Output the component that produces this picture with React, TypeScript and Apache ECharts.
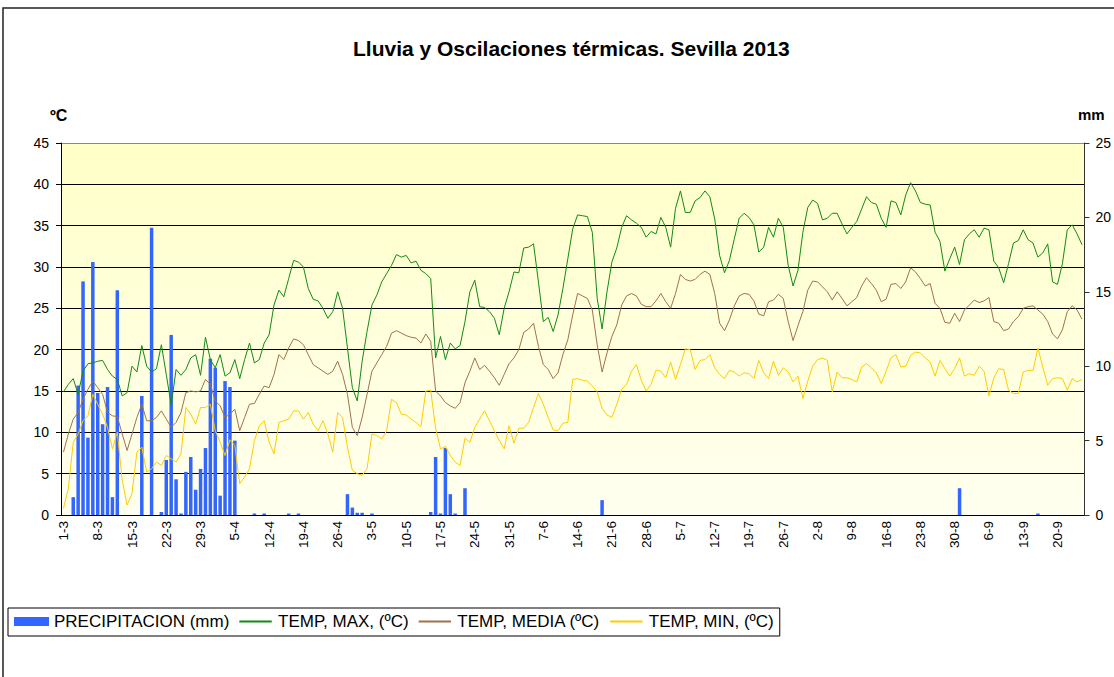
import React, { useEffect, useRef } from "react";
import * as echarts from "echarts";

const START = Date.UTC(2013, 2, 1);
const N_DAYS = 209;
const dates: string[] = Array.from({ length: N_DAYS }, (_, i) => {
  const d = new Date(START + i * 86400000);
  return `${d.getUTCDate()}-${d.getUTCMonth() + 1}`;
});

const tempMax = [
  14.9, 15.8, 16.5, 14.6, 17.4, 18.3, 18.4, 18.6, 18.7, 17.6,
  16.8, 16.4, 14.4, 14.8, 18.0, 17.3, 20.5, 18.0, 17.3, 17.7,
  20.6, 17.0, 13.3, 17.6, 16.9, 17.6, 19.0, 19.4, 16.9, 21.5,
  18.8, 17.8, 19.4, 16.8, 17.2, 18.8, 16.5, 18.8, 20.8, 18.4,
  18.8, 20.8, 21.8, 25.4, 27.2, 26.4, 28.6, 30.8, 30.6, 30.0,
  27.4, 26.1, 25.9, 25.0, 23.8, 24.6, 27.0, 25.0, 20.2, 15.4,
  13.8, 18.6, 22.2, 25.4, 26.6, 28.2, 29.2, 30.2, 31.5, 31.2,
  31.4, 30.5, 30.7, 29.6, 29.2, 28.6, 19.0, 21.6, 18.8, 20.8,
  20.1, 20.5, 23.4, 27.0, 28.4, 25.2, 25.1, 24.6, 23.8, 21.8,
  25.0, 27.0, 29.4, 29.3, 32.3, 32.4, 32.8, 28.2, 23.4, 23.9,
  22.2, 24.2, 27.4, 31.0, 34.6, 36.3, 36.2, 36.1, 34.2, 26.2,
  22.5, 27.0, 30.6, 32.3, 34.8, 36.2, 35.7, 35.3, 34.8, 33.6,
  34.3, 34.0, 36.0, 34.8, 32.4, 37.1, 39.2, 36.6, 36.6, 38.0,
  38.4, 39.2, 38.5, 35.8, 31.4, 29.3, 30.8, 33.4, 35.9, 36.5,
  36.0, 35.1, 31.8, 32.4, 34.8, 33.6, 35.9, 34.8, 30.2, 27.7,
  29.6, 34.2, 37.2, 38.1, 37.7, 35.7, 35.9, 36.5, 36.5, 35.2,
  34.0, 34.8, 35.5, 37.0, 38.5, 37.8, 37.6, 35.9, 34.8, 38.0,
  37.8, 36.3, 38.7, 40.2, 39.2, 37.8, 37.6, 37.5, 34.2, 33.1,
  29.5, 31.0, 32.4, 30.3, 33.3, 34.0, 34.5, 33.6, 34.7, 34.5,
  30.7, 29.9, 28.1, 30.4, 32.9, 33.2, 34.5, 33.3, 32.9, 31.2,
  31.7, 32.8, 28.2, 27.9, 30.4, 34.5, 35.1, 34.0, 32.7,
];

const tempMedia = [
  7.6, 9.8, 11.6, 12.4, 14.0, 15.2, 16.2, 15.4, 14.6, 12.4,
  12.0, 11.9, 9.8, 7.8, 9.8, 11.8, 13.4, 11.4, 11.4, 11.8,
  12.6, 11.6, 10.6, 11.2, 12.4, 14.8, 15.0, 14.9, 15.0, 16.4,
  15.8, 13.8, 13.2, 11.8, 12.2, 12.8, 10.2, 11.8, 13.4, 13.5,
  14.6, 15.6, 15.4, 17.0, 19.4, 18.8, 20.2, 21.3, 21.1, 20.6,
  19.4, 18.2, 17.8, 17.4, 17.0, 17.4, 18.6, 17.0, 14.6, 10.6,
  9.6, 11.8, 14.6, 17.4, 18.4, 19.4, 20.4, 22.0, 22.3, 22.0,
  21.7, 21.5, 21.4, 20.8, 21.9, 21.0, 15.0, 14.4, 13.6, 13.2,
  12.9, 13.6, 16.0, 17.4, 19.0, 17.6, 18.1, 17.4, 16.6, 15.7,
  17.0, 18.3, 19.0, 20.0, 22.1, 22.5, 23.2, 20.4, 18.2, 17.6,
  16.5, 17.2, 19.4, 21.2, 24.2, 26.8, 26.5, 26.2, 24.8, 20.6,
  17.3, 19.6, 21.6, 23.0, 25.4, 26.5, 26.8, 26.5, 25.5, 25.2,
  25.2, 25.9, 26.8, 25.8, 25.0, 26.8, 29.1, 28.5, 28.3, 28.5,
  29.1, 29.5, 29.1, 26.8, 23.2, 22.3, 23.6, 25.3, 26.5, 26.8,
  26.7, 25.9, 24.3, 24.1, 25.8, 26.0, 26.7, 26.2, 23.4, 21.1,
  22.9, 24.6, 27.2, 28.3, 28.2, 27.6, 27.0, 26.0, 27.0, 26.2,
  25.3, 25.8, 26.3, 27.7, 28.7, 28.0, 27.2, 25.8, 26.1, 27.9,
  28.0, 27.4, 28.2, 29.9, 29.4, 28.6, 27.7, 28.0, 25.6, 25.0,
  23.3, 23.2, 24.4, 23.4, 24.8, 25.4, 26.0, 25.7, 25.9, 26.3,
  23.4, 23.2, 22.3, 22.5, 23.4, 24.0, 25.0, 25.2, 25.3, 24.8,
  24.3, 23.4, 21.9, 21.3, 22.4, 24.6, 25.3, 24.8, 23.7,
];

const tempMin = [
  0.8, 3.2, 8.8, 9.8, 11.4, 12.0, 14.6, 13.4, 12.2, 10.6,
  8.0, 10.0, 4.2, 1.2, 2.6, 7.6, 8.2, 5.2, 5.6, 6.4,
  6.0, 7.2, 6.8, 6.4, 7.4, 13.0, 12.2, 11.0, 13.0, 13.0,
  13.4, 10.2, 8.8, 7.2, 9.1, 8.4, 3.8, 4.6, 5.6, 9.0,
  10.8, 11.4, 8.8, 7.4, 11.2, 11.4, 11.6, 12.6, 12.6, 11.6,
  12.4, 11.0, 10.2, 11.4, 9.8, 7.6, 12.4, 11.8, 8.2, 5.4,
  5.0, 4.8, 5.6, 9.8, 9.6, 9.2, 10.2, 14.0, 13.6, 12.2,
  12.1, 11.6, 11.2, 10.7, 15.0, 15.1, 10.5, 8.0, 8.3, 7.2,
  6.4, 6.0, 9.3, 8.8, 10.6, 11.6, 12.6, 11.4, 10.2, 9.0,
  8.0, 10.8, 8.7, 10.5, 10.5, 11.2, 13.0, 14.7, 13.4, 11.8,
  10.3, 10.2, 11.1, 11.2, 16.4, 16.5, 16.3, 16.2, 15.6, 14.9,
  12.9, 12.1, 11.8, 13.4, 15.2, 15.8, 17.4, 18.2, 16.3, 15.0,
  15.8, 17.5, 17.4, 16.6, 18.5, 16.4, 18.2, 20.1, 20.0, 17.6,
  18.7, 18.8, 19.4, 17.8, 17.0, 16.5, 17.5, 17.3, 16.8, 17.2,
  17.1, 16.5, 18.7, 17.2, 16.5, 18.6, 16.9, 17.8, 17.3, 16.1,
  16.8, 14.1, 16.2, 18.0, 18.8, 19.0, 18.7, 14.9, 17.3, 16.6,
  16.6, 16.4, 16.1, 17.9, 18.3, 17.8, 17.2, 15.9, 17.4, 19.0,
  19.4, 17.9, 18.0, 19.3, 19.7, 19.6, 19.0, 18.5, 16.8, 18.7,
  17.7, 16.8, 17.7, 19.0, 16.8, 17.1, 16.9, 18.0, 17.4, 14.4,
  16.6, 17.7, 17.6, 15.1, 14.7, 14.7, 17.3, 17.5, 17.5, 20.2,
  17.9, 15.7, 16.5, 16.6, 16.5, 15.1, 16.5, 16.1, 16.4,
];

const precip = [
  0, 0, 1.2, 8.7, 15.7, 5.2, 17.0, 8.2, 6.1, 8.6,
  1.2, 15.1, 0, 0, 0, 0, 8.0, 0, 19.3, 0,
  0.2, 3.7, 12.1, 2.4, 0.1, 2.9, 3.9, 1.7, 3.1, 4.5,
  10.5, 9.9, 1.3, 9.0, 8.6, 5.0, 0, 0, 0, 0.1,
  0, 0.1, 0, 0, 0, 0, 0.1, 0, 0.1, 0,
  0, 0, 0, 0, 0, 0, 0, 0, 1.4, 0.5,
  0.15, 0.15, 0, 0.1, 0, 0, 0, 0, 0, 0,
  0, 0, 0, 0, 0, 0.2, 3.9, 0.1, 4.5, 1.4,
  0.1, 0, 1.8, 0, 0, 0, 0, 0, 0, 0,
  0, 0, 0, 0, 0, 0, 0, 0, 0, 0,
  0, 0, 0, 0, 0, 0, 0, 0, 0, 0,
  1.0, 0, 0, 0, 0, 0, 0, 0, 0, 0,
  0, 0, 0, 0, 0, 0, 0, 0, 0, 0,
  0, 0, 0, 0, 0, 0, 0, 0, 0, 0,
  0, 0, 0, 0, 0, 0, 0, 0, 0, 0,
  0, 0, 0, 0, 0, 0, 0, 0, 0, 0,
  0, 0, 0, 0, 0, 0, 0, 0, 0, 0,
  0, 0, 0, 0, 0, 0, 0, 0, 0, 0,
  0, 0, 0, 1.8, 0, 0, 0, 0, 0, 0,
  0, 0, 0, 0, 0, 0, 0, 0, 0, 0.1,
  0, 0, 0, 0, 0, 0, 0, 0, 0,
];

const tempTicks = { min: 0, max: 45, interval: 5 };
const mmTicks = { min: 0, max: 25, interval: 5 };

const TITLE = "Lluvia y Oscilaciones térmicas. Sevilla 2013";
const S_PRECIP = "PRECIPITACION (mm)";
const S_MAX = "TEMP, MAX, (ºC)";
const S_MEDIA = "TEMP, MEDIA (ºC)";
const S_MIN = "TEMP, MIN, (ºC)";

const C_PRECIP = "#3366FF";
const C_MAX = "#128A12";
const C_MEDIA = "#A0724A";
const C_MIN = "#FFCC00";

const FONT = 'Arial, "Liberation Sans", sans-serif';
const LINE_ICON = "path://M0,0L36,0M0,4L36,4L36,6L0,6ZM0,10L36,10";

export default function App() {
  const ref = useRef<HTMLDivElement>(null);
  useEffect(() => {
    if (!ref.current) return;
    const chart = echarts.init(ref.current, null, { renderer: "svg" });
    const gridColors = ["#000", "#000", "#000", "#000", "#000", "#000", "#000", "#000", "#000", "#888"];
    chart.setOption({
      animation: false,
      backgroundColor: "#fff",
      textStyle: { fontFamily: FONT },
      title: {
        text: TITLE,
        left: 348,
        top: 33,
        textStyle: { fontFamily: FONT, fontSize: 21, fontWeight: "bold", color: "#000" },
      },
      graphic: [
        {
          type: "rect",
          shape: { x: 3, y: 8, width: 1300, height: 900 },
          style: { fill: "none", stroke: "#222", lineWidth: 1.5 },
          z: -10,
          silent: true,
        },
        {
          type: "text",
          left: 50,
          top: 107,
          style: { text: "ºC", font: `bold 16px ${FONT}`, fill: "#000" },
        },
        {
          type: "text",
          left: 1078,
          top: 107,
          style: { text: "mm", font: `bold 15px ${FONT}`, fill: "#000" },
        },
      ],
      legend: {
        left: 8,
        top: 608,
        orient: "horizontal",
        padding: [5, 6, 6, 6],
        itemGap: 10,
        itemWidth: 35,
        itemHeight: 9,
        borderColor: "#000",
        borderWidth: 1,
        textStyle: { fontFamily: FONT, fontSize: 17, color: "#000" },
        data: [
          { name: S_PRECIP, icon: "rect" },
          { name: S_MAX, icon: LINE_ICON, itemStyle: { color: C_MAX, borderWidth: 0 } },
          { name: S_MEDIA, icon: LINE_ICON, itemStyle: { color: C_MEDIA, borderWidth: 0 } },
          { name: S_MIN, icon: LINE_ICON, itemStyle: { color: C_MIN, borderWidth: 0 } },
        ],
      },
      grid: {
        left: 61,
        top: 143,
        width: 1024,
        height: 372,
        show: true,
        borderWidth: 0,
        backgroundColor: new echarts.graphic.LinearGradient(0, 0, 0, 1, [
          { offset: 0, color: "#FFFFC8" },
          { offset: 1, color: "#FFFFF0" },
        ]),
      },
      xAxis: {
        type: "category",
        data: dates,
        boundaryGap: true,
        axisLine: { lineStyle: { color: "#000", width: 1 } },
        axisTick: { interval: 6, length: 5, lineStyle: { color: "#000" } },
        axisLabel: {
          interval: 6,
          rotate: 90,
          margin: 6,
          fontSize: 13.5,
          color: "#000",
          fontFamily: FONT,
        },
        splitLine: { show: false },
      },
      yAxis: [
        {
          type: "value",
          ...tempTicks,
          position: "left",
          axisLine: { show: true, lineStyle: { color: "#000" } },
          axisTick: { show: true, length: 5, lineStyle: { color: "#000" } },
          axisLabel: { margin: 12, fontSize: 14, color: "#000", fontFamily: FONT },
          splitLine: { show: true, lineStyle: { color: gridColors, width: 1 } },
        },
        {
          type: "value",
          ...mmTicks,
          position: "right",
          axisLine: { show: true, lineStyle: { color: "#333" } },
          axisTick: { show: true, length: 5, lineStyle: { color: "#333" } },
          axisLabel: { margin: 11, fontSize: 14, color: "#000", fontFamily: FONT },
          splitLine: { show: false },
        },
      ],
      series: [
        {
          name: S_PRECIP,
          type: "bar",
          yAxisIndex: 1,
          data: precip,
          barWidth: 3.5,
          itemStyle: { color: C_PRECIP },
          z: 1,
        },
        {
          name: S_MAX,
          type: "line",
          data: tempMax,
          symbol: "none",
          lineStyle: { color: C_MAX, width: 1 },
          itemStyle: { color: C_MAX },
          z: 3,
        },
        {
          name: S_MEDIA,
          type: "line",
          data: tempMedia,
          symbol: "none",
          lineStyle: { color: C_MEDIA, width: 1 },
          itemStyle: { color: C_MEDIA },
          z: 3,
        },
        {
          name: S_MIN,
          type: "line",
          data: tempMin,
          symbol: "none",
          lineStyle: { color: C_MIN, width: 1 },
          itemStyle: { color: C_MIN },
          z: 3,
        },
      ],
    });
    return () => chart.dispose();
  }, []);
  return (
    <div
      ref={ref}
      style={{ position: "absolute", left: 0, top: 0, width: 1114, height: 677 }}
    />
  );
}
